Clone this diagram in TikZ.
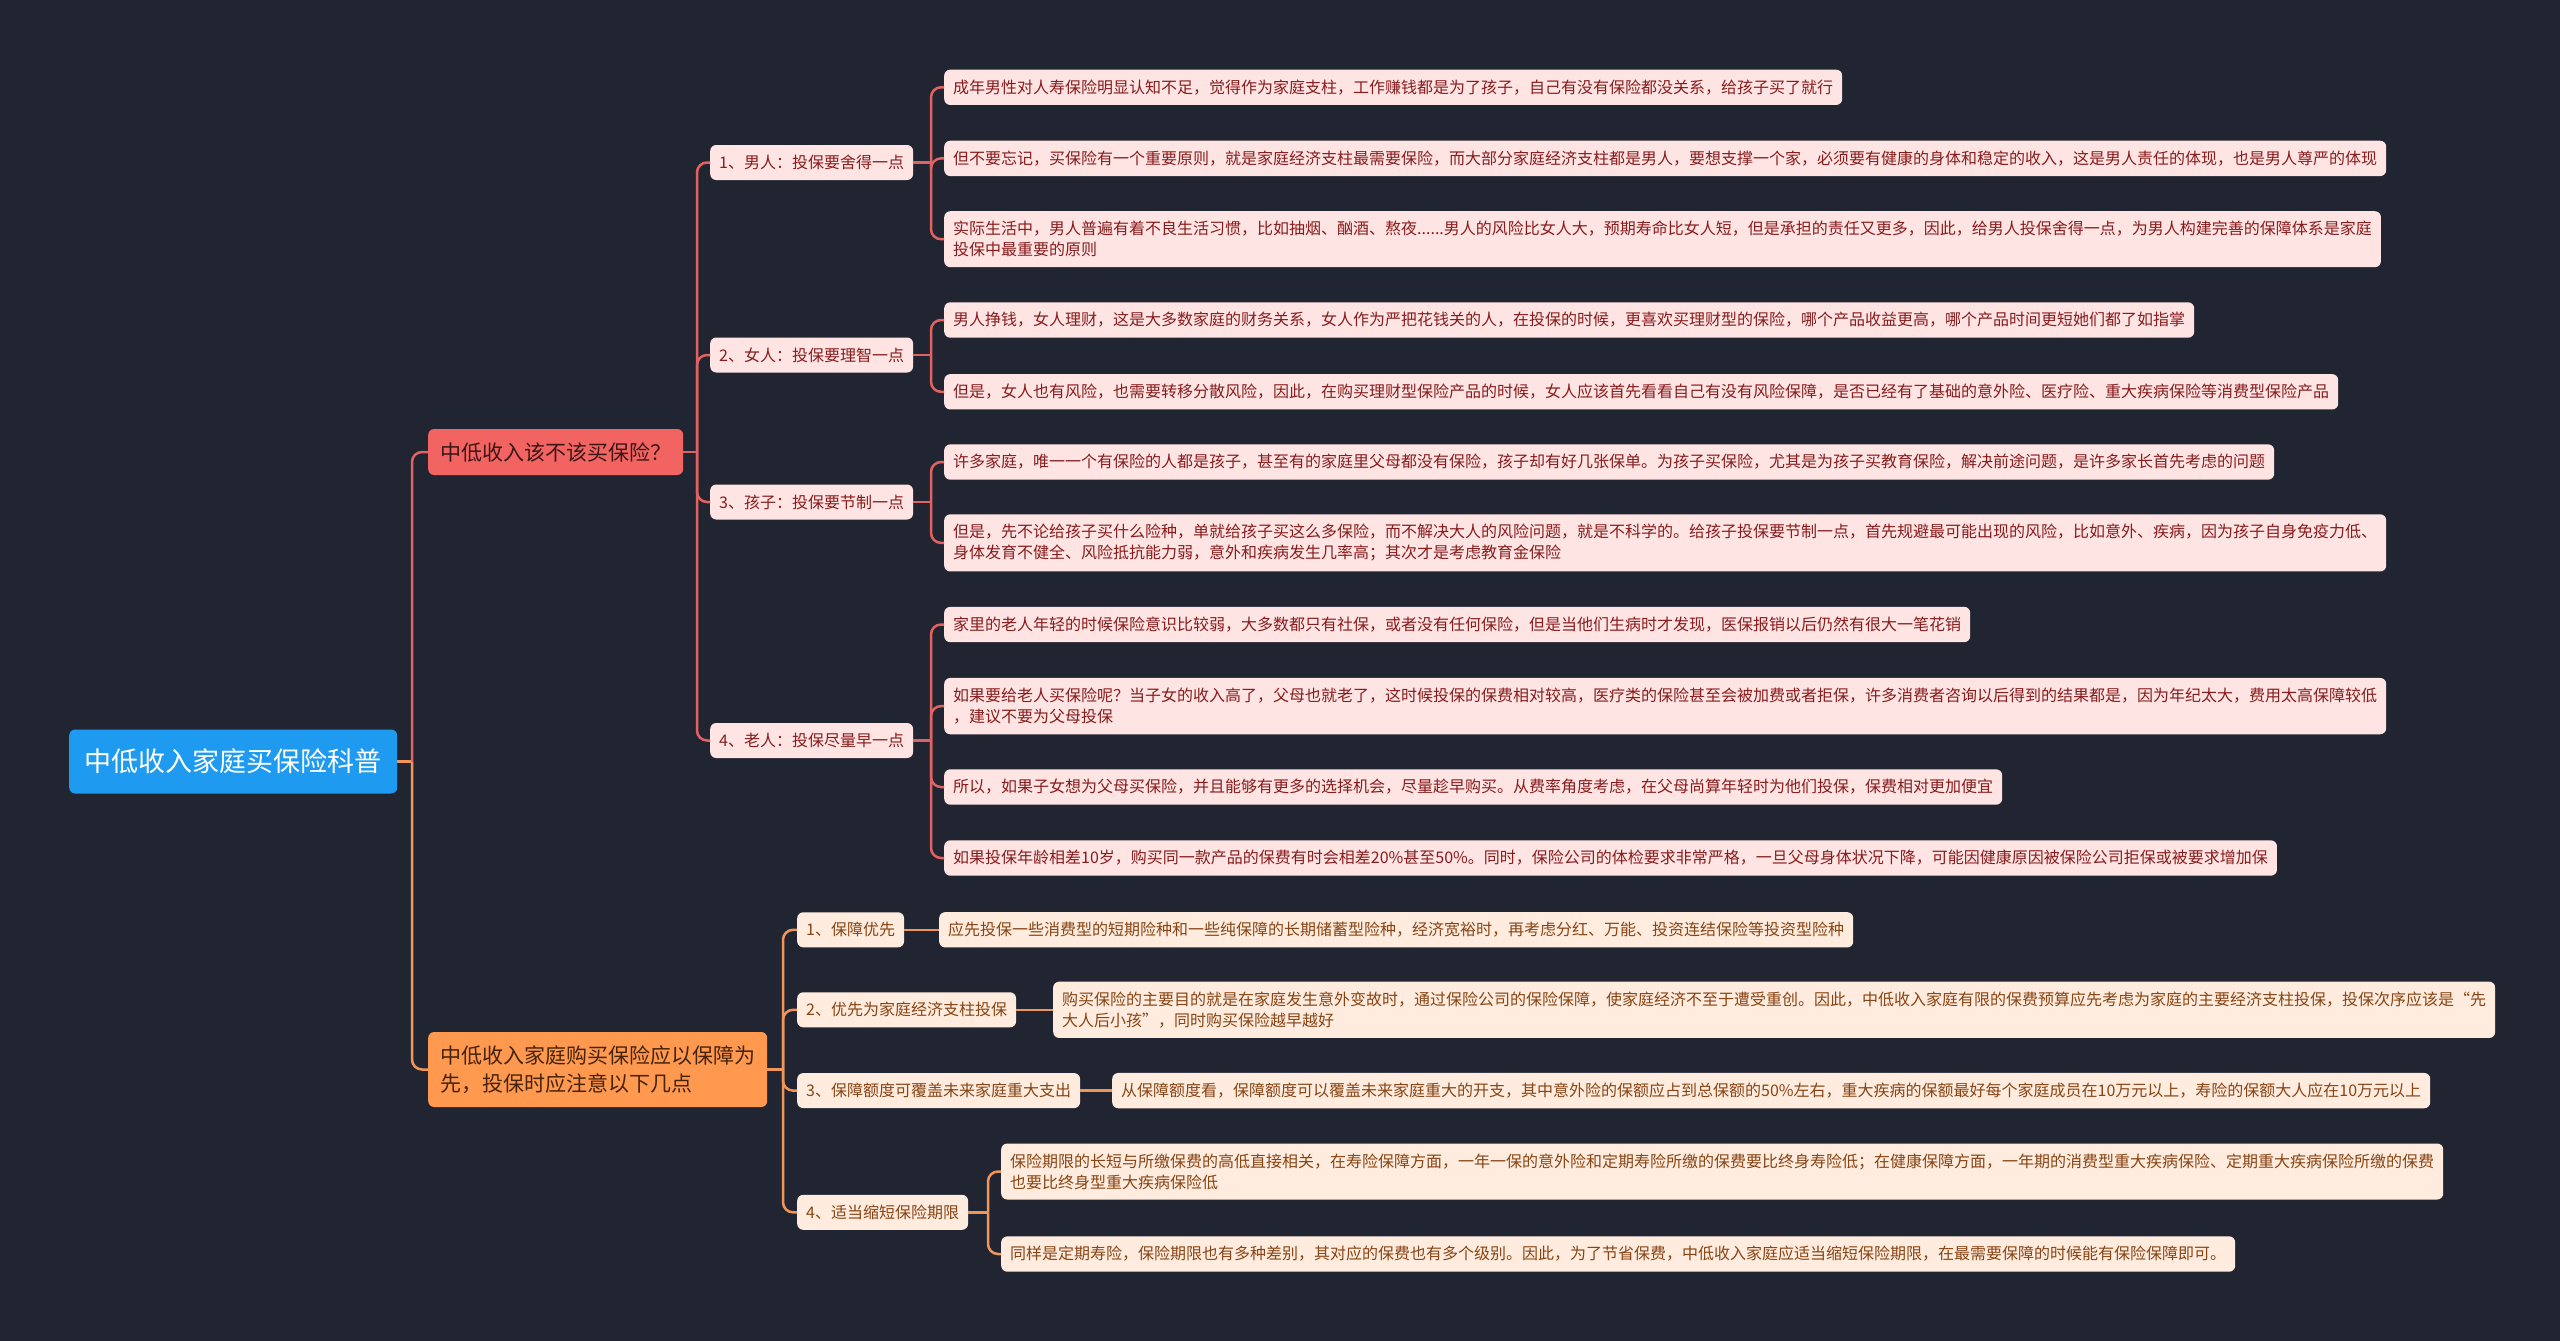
\documentclass[tikz,border=0pt]{standalone}
\usepackage{fontspec}
\setmainfont{Noto Sans CJK SC}
\definecolor{bgc}{RGB}{33,37,49}
\definecolor{rootblue}{RGB}{30,155,240}
\definecolor{bonecol}{RGB}{242,100,98}
\definecolor{btwocol}{RGB}{255,153,79}
\definecolor{bonetxt}{RGB}{60,22,22}
\definecolor{btwotxt}{RGB}{70,35,10}
\definecolor{pinkfill}{RGB}{255,228,228}
\definecolor{pinktxt}{RGB}{135,28,28}
\definecolor{peachfill}{RGB}{255,236,222}
\definecolor{peachtxt}{RGB}{135,68,20}
\definecolor{rline}{RGB}{226,98,98}
\definecolor{oline}{RGB}{240,150,90}
\tikzset{
  x=1pt, y=-1pt,
  rootn/.style={fill=rootblue, text=white, font=\fontsize{27pt}{32pt}\selectfont, rounded corners=6pt, inner xsep=14pt, minimum height=64pt, minimum width=328pt, anchor=west},
  bone/.style={fill=bonecol, text=bonetxt, font=\fontsize{21pt}{28pt}\selectfont, rounded corners=6pt, inner xsep=12pt, minimum height=46pt, minimum width=251pt, anchor=west},
  btwo/.style={fill=btwocol, text=btwotxt, font=\fontsize{21pt}{28pt}\selectfont, rounded corners=6pt, inner xsep=12pt, inner ysep=10pt, minimum height=75pt, minimum width=339pt, anchor=west, align=left},
  pleaf/.style={fill=pinkfill, text=pinktxt, font=\fontsize{16pt}{21pt}\selectfont, rounded corners=6pt, inner xsep=9pt, inner ysep=10pt, minimum height=35pt, anchor=west, align=left},
  oleaf/.style={fill=peachfill, text=peachtxt, font=\fontsize{16pt}{21pt}\selectfont, rounded corners=6pt, inner xsep=9pt, inner ysep=10pt, minimum height=35pt, anchor=west, align=left},
  rconn/.style={draw=rline, line width=2.5pt, rounded corners=10pt},
  oconn/.style={draw=oline, line width=2.5pt, rounded corners=10pt},
}
\begin{document}
\begin{tikzpicture}
\fill[bgc] (0,0) rectangle (2560,1341);
\useasboundingbox (0,0) rectangle (2560,1341);

% root and branches
\node[rootn] (root) at (69,761.5) {中低收入家庭买保险科普};
\node[bone] (b1) at (428,452) {中低收入该不该买保险？};
\node[btwo] (b2) at (428,1069.5) {中低收入家庭购买保险应以保障为\\先，投保时应注意以下几点};

% branch 1 subs
\node[pleaf] (s11) at (710,162.5) {1、男人：投保要舍得一点};
\node[pleaf] (s12) at (710,355) {2、女人：投保要理智一点};
\node[pleaf] (s13) at (710,502) {3、孩子：投保要节制一点};
\node[pleaf] (s14) at (710,740.5) {4、老人：投保尽量早一点};

% branch 1 leaves
\node[pleaf] (l1a) at (944,87.3) {成年男性对人寿保险明显认知不足，觉得作为家庭支柱，工作赚钱都是为了孩子，自己有没有保险都没关系，给孩子买了就行};
\node[pleaf] (l1b) at (944,158.4) {但不要忘记，买保险有一个重要原则，就是家庭经济支柱最需要保险，而大部分家庭经济支柱都是男人，要想支撑一个家，必须要有健康的身体和稳定的收入，这是男人责任的体现，也是男人尊严的体现};
\node[pleaf] (l1c) at (944,239.2) {实际生活中，男人普遍有着不良生活习惯，比如抽烟、酗酒、熬夜......男人的风险比女人大，预期寿命比女人短，但是承担的责任又更多，因此，给男人投保舍得一点，为男人构建完善的保障体系是家庭\\投保中最重要的原则};
\node[pleaf] (l2a) at (944,320) {男人挣钱，女人理财，这是大多数家庭的财务关系，女人作为严把花钱关的人，在投保的时候，更喜欢买理财型的保险，哪个产品收益更高，哪个产品时间更短她们都了如指掌};
\node[pleaf] (l2b) at (944,391.8) {但是，女人也有风险，也需要转移分散风险，因此，在购买理财型保险产品的时候，女人应该首先看看自己有没有风险保障，是否已经有了基础的意外险、医疗险、重大疾病保险等消费型保险产品};
\node[pleaf] (l3a) at (944,462) {许多家庭，唯一一个有保险的人都是孩子，甚至有的家庭里父母都没有保险，孩子却有好几张保单。为孩子买保险，尤其是为孩子买教育保险，解决前途问题，是许多家长首先考虑的问题};
\node[pleaf] (l3b) at (944,542.9) {但是，先不论给孩子买什么险种，单就给孩子买这么多保险，而不解决大人的风险问题，就是不科学的。给孩子投保要节制一点，首先规避最可能出现的风险，比如意外、疾病，因为孩子自身免疫力低、\\身体发育不健全、风险抵抗能力弱，意外和疾病发生几率高；其次才是考虑教育金保险};
\node[pleaf] (l4a) at (944,624.5) {家里的老人年轻的时候保险意识比较弱，大多数都只有社保，或者没有任何保险，但是当他们生病时才发现，医保报销以后仍然有很大一笔花销};
\node[pleaf] (l4b) at (944,706.1) {如果要给老人买保险呢？当子女的收入高了，父母也就老了，这时候投保的保费相对较高，医疗类的保险甚至会被加费或者拒保，许多消费者咨询以后得到的结果都是，因为年纪太大，费用太高保障较低\\，建议不要为父母投保};
\node[pleaf] (l4c) at (944,787) {所以，如果子女想为父母买保险，并且能够有更多的选择机会，尽量趁早购买。从费率角度考虑，在父母尚算年轻时为他们投保，保费相对更加便宜};
\node[pleaf] (l4d) at (944,858) {如果投保年龄相差10岁，购买同一款产品的保费有时会相差20\%甚至50\%。同时，保险公司的体检要求非常严格，一旦父母身体状况下降，可能因健康原因被保险公司拒保或被要求增加保};

% branch 2 subs
\node[oleaf] (s21) at (797,929.8) {1、保障优先};
\node[oleaf] (s22) at (797,1009.8) {2、优先为家庭经济支柱投保};
\node[oleaf] (s23) at (797,1090.6) {3、保障额度可覆盖未来家庭重大支出};
\node[oleaf] (s24) at (797,1212.3) {4、适当缩短保险期限};

% branch 2 leaves
\node[oleaf] (t1) at (939,929.8) {应先投保一些消费型的短期险种和一些纯保障的长期储蓄型险种，经济宽裕时，再考虑分红、万能、投资连结保险等投资型险种};
\node[oleaf] (t2) at (1053,1009.8) {购买保险的主要目的就是在家庭发生意外变故时，通过保险公司的保险保障，使家庭经济不至于遭受重创。因此，中低收入家庭有限的保费预算应先考虑为家庭的主要经济支柱投保，投保次序应该是“先\\大人后小孩”，同时购买保险越早越好};
\node[oleaf] (t3) at (1112,1090.6) {从保障额度看，保障额度可以覆盖未来家庭重大的开支，其中意外险的保额应占到总保额的50\%左右，重大疾病的保额最好每个家庭成员在10万元以上，寿险的保额大人应在10万元以上};
\node[oleaf] (t4a) at (1001,1171.5) {保险期限的长短与所缴保费的高低直接相关，在寿险保障方面，一年一保的意外险和定期寿险所缴的保费要比终身寿险低；在健康保障方面，一年期的消费型重大疾病保险、定期重大疾病保险所缴的保费\\也要比终身型重大疾病保险低};
\node[oleaf] (t4b) at (1001,1254) {同样是定期寿险，保险期限也有多种差别，其对应的保费也有多个级别。因此，为了节省保费，中低收入家庭应适当缩短保险期限，在最需要保障的时候能有保险保障即可。};

% trunk coordinates
\coordinate (rt) at (412,761.5);
\coordinate (b1t) at (697,452);
\coordinate (b2t) at (783,1069.5);
\coordinate (s11t) at (931,162.5);
\coordinate (s12t) at (931,355);
\coordinate (s13t) at (931,502);
\coordinate (s14t) at (931,740.5);
\coordinate (s24t) at (988,1212.3);

% root connectors
\draw[oconn] (root.east) -- (rt);
\draw[rconn] (rt) |- (b1.west);
\draw[oconn] (rt) |- (b2.west);

% branch 1
\draw[rconn] (b1.east) -- (b1t);
\foreach \s in {s11,s12,s13,s14} \draw[rconn] (b1t) |- (\s.west);
\draw[rconn] (s11.east) -- (s11t);
\foreach \l in {l1a,l1b,l1c} \draw[rconn] (s11t) |- (\l.west);
\draw[rconn] (s12.east) -- (s12t);
\foreach \l in {l2a,l2b} \draw[rconn] (s12t) |- (\l.west);
\draw[rconn] (s13.east) -- (s13t);
\foreach \l in {l3a,l3b} \draw[rconn] (s13t) |- (\l.west);
\draw[rconn] (s14.east) -- (s14t);
\foreach \l in {l4a,l4b,l4c,l4d} \draw[rconn] (s14t) |- (\l.west);

% branch 2
\draw[oconn] (b2.east) -- (b2t);
\foreach \s in {s21,s22,s23,s24} \draw[oconn] (b2t) |- (\s.west);
\draw[oconn] (s21.east) -- (t1.west);
\draw[oconn] (s22.east) -- (t2.west);
\draw[oconn] (s23.east) -- (t3.west);
\draw[oconn] (s24.east) -- (s24t);
\foreach \l in {t4a,t4b} \draw[oconn] (s24t) |- (\l.west);
\end{tikzpicture}
\end{document}
